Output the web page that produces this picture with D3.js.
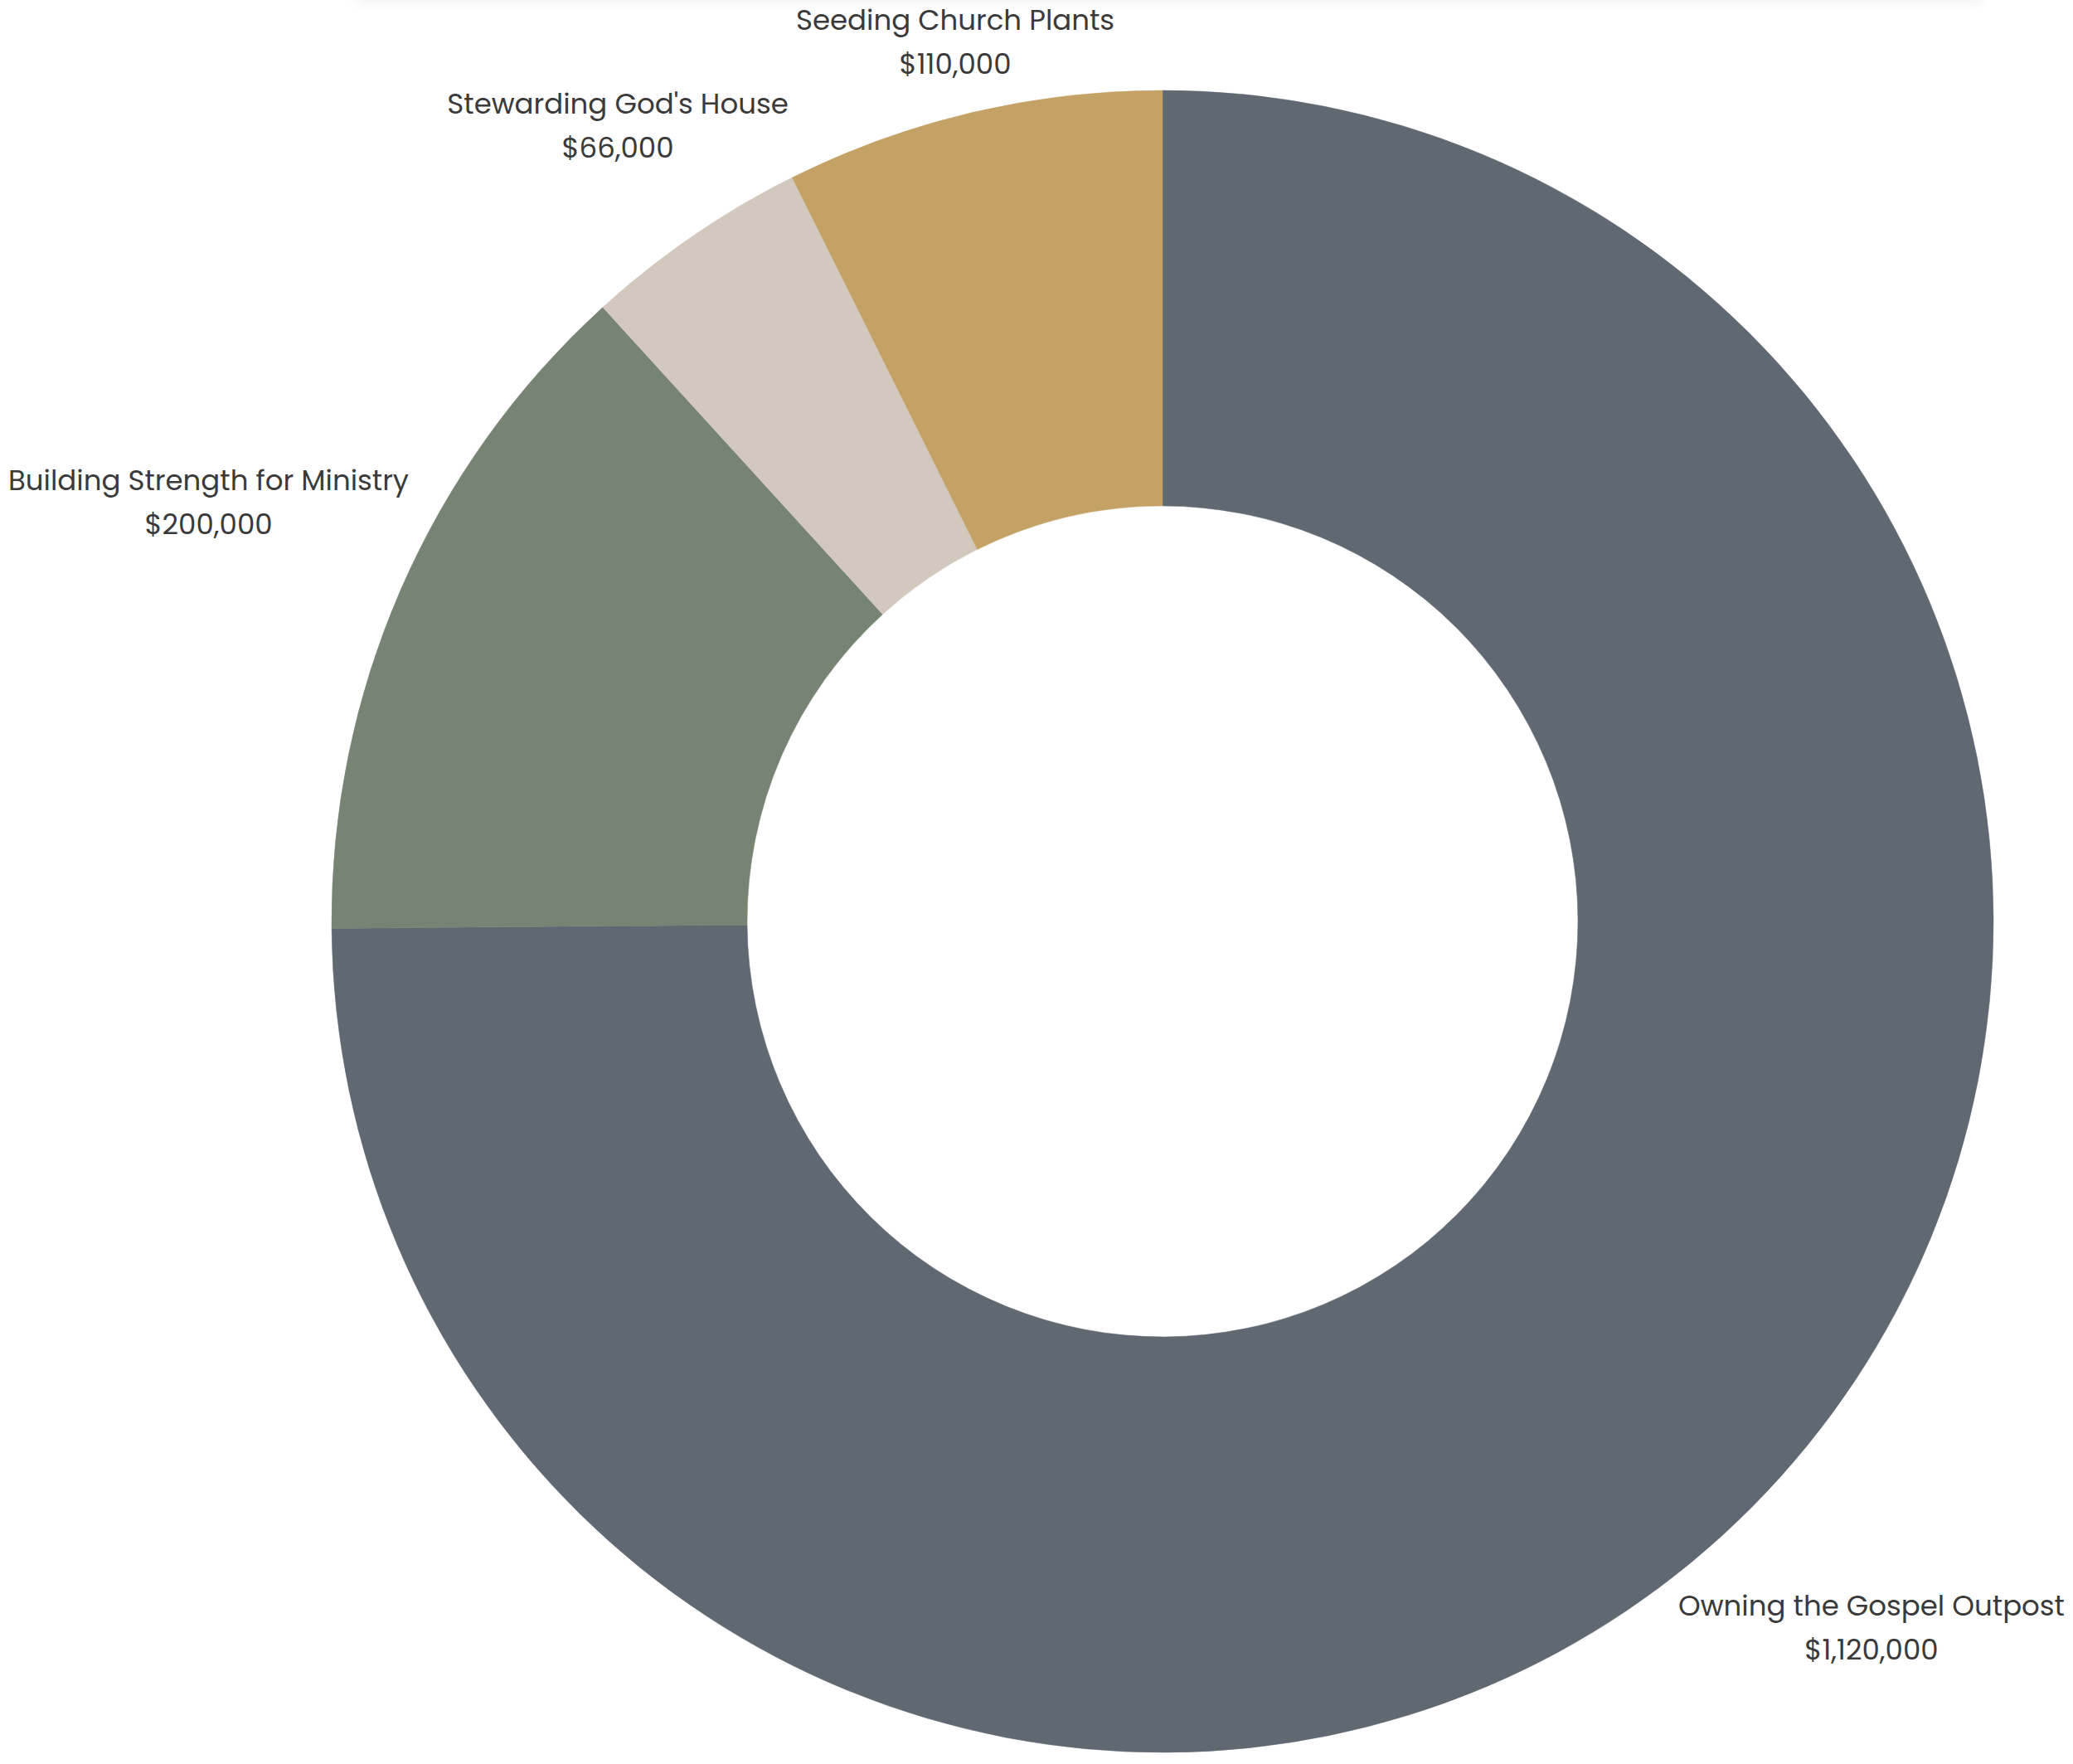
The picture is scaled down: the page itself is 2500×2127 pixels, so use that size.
<!DOCTYPE html>
<html>
<head>
<meta charset="utf-8">
<script src="https://cdn.jsdelivr.net/npm/d3@7"></script>
<style>
  html, body { margin: 0; padding: 0; background: #fff; }
  svg { display: block; }
  .lbl { font-family: "Poppins", "Inter", "Open Sans", sans-serif; fill: #3a3a3a; }
</style>
</head>
<body>
<div id="chart"></div>
<script>
// data
var categories = ["Owning the Gospel Outpost", "Building Strength for Ministry", "Stewarding God's House", "Seeding Church Plants"];
var amounts = [1120000, 200000, 66000, 110000];
var colours = ["#606872", "#778473", "#d3c8bd", "#c4a265"];

const width = 2500, height = 2127;
const cx = 1402, cy = 1111;
const outer = 1002, inner = 501;
const fontSize = 34;
const pad = 10;

var svg = d3.select("#chart")
  .append("svg")
  .attr("width", width)
  .attr("height", height);

// faint card shadow along the top edge
var defs = svg.append("defs");
defs.append("filter").attr("id", "blur")
  .attr("x", "-10%").attr("y", "-200%").attr("width", "120%").attr("height", "500%")
  .append("feGaussianBlur").attr("stdDeviation", 8);
svg.append("rect")
  .attr("x", 430).attr("y", -30)
  .attr("width", 1960).attr("height", 32)
  .attr("fill", "#000").attr("opacity", 0.06)
  .attr("filter", "url(#blur)");

var data = categories.map((c, i) => ({name: c, value: amounts[i], colour: colours[i]}));

var pie = d3.pie().sort(null).value(d => d.value);
var arc = d3.arc().innerRadius(inner).outerRadius(outer);

var g = svg.append("g").attr("transform", `translate(${cx},${cy})`);

var arcs = pie(data);

g.selectAll("path.slice")
  .data(arcs)
  .join("path")
  .attr("class", "slice")
  .attr("d", arc)
  .attr("fill", d => d.data.colour)
  .attr("stroke", d => d.data.colour)
  .attr("stroke-width", 0.5);

var fmt = d3.format("$,");

// labels sit on the radial line through each slice's middle,
// pushed out by the half-size of the text block, then kept inside the page
var labels = g.selectAll("g.lbl")
  .data(arcs)
  .join("g")
  .attr("class", "lbl");

labels.append("text")
  .attr("class", "name")
  .attr("text-anchor", "middle")
  .style("font-size", fontSize + "px")
  .attr("y", -15)
  .text(d => d.data.name);

labels.append("text")
  .attr("class", "val")
  .attr("text-anchor", "middle")
  .style("font-size", fontSize + "px")
  .attr("y", 38)
  .text(d => fmt(d.data.value));

labels.attr("transform", function(d) {
  var w = d3.max(d3.select(this).selectAll("text").nodes(), n => n.getComputedTextLength());
  var a = (d.startAngle + d.endAngle) / 2;
  var vx = Math.sin(a), vy = -Math.cos(a);
  var r = outer + 36 + Math.abs(vx) * w / 2 + Math.abs(vy) * 10;
  var tx = vx * r, ty = vy * r;
  var b = this.getBBox();
  var left = cx + tx + b.x, right = left + b.width;
  var top = cy + ty + b.y, bottom = top + b.height;
  if (left < pad) tx += pad - left;
  if (right > width - pad) tx -= right - (width - pad);
  if (top < 0) ty -= top;
  if (bottom > height) ty -= bottom - height;
  return `translate(${tx},${ty})`;
});
</script>
</body>
</html>
